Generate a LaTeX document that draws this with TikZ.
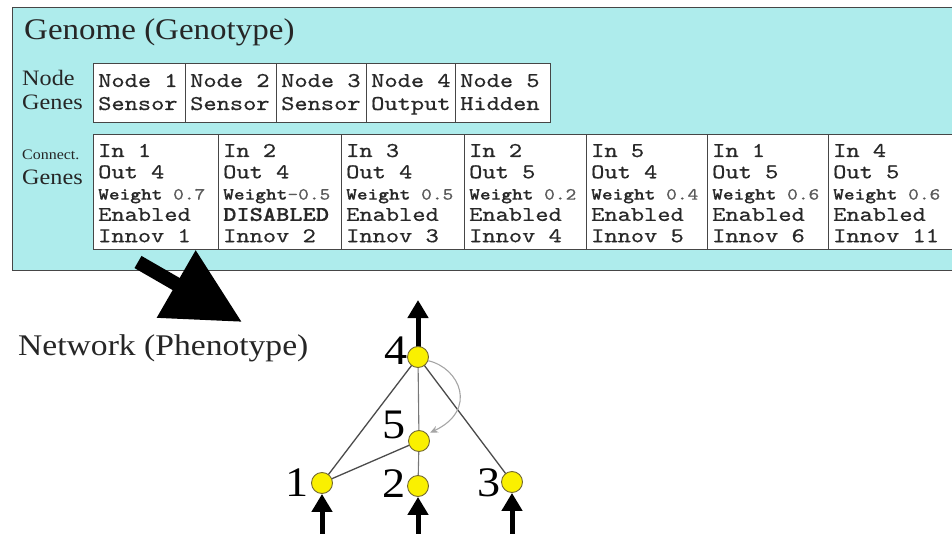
\documentclass[tikz,border=0pt]{standalone}
\usepackage{fontspec}
\setmainfont{Liberation Serif}
\newfontfamily\cellmono[FakeBold=0.5,BoldFont={lmmonolt10-bold.otf}]{lmmono10-regular.otf}
\usepackage{graphicx}
\usetikzlibrary{arrows.meta,backgrounds}

\definecolor{panelcyan}{RGB}{174,236,236}
\definecolor{rulegray}{RGB}{70,70,70}
\definecolor{inkgray}{RGB}{40,40,40}
\definecolor{numgray}{RGB}{90,90,90}
\definecolor{nodeyellow}{RGB}{250,240,0}
\definecolor{nodeedge}{RGB}{115,105,50}
\definecolor{edgedark}{RGB}{75,75,75}
\definecolor{edgelight}{RGB}{120,120,120}
\definecolor{curvegray}{RGB}{165,165,165}

% horizontally widened text, serif and typewriter
\newcommand\serifwide[1]{\scalebox{1.1}[1]{#1}}
\newcommand\monowide[1]{\scalebox{1.2}[1]{#1}}

\tikzset{
  panel/.style={draw=rulegray, fill=panelcyan, line width=1.3pt, inner sep=0, anchor=north west},
  cellbox/.style={draw=rulegray, fill=white, line width=1.1pt, inner sep=0, anchor=north west},
  label/.style={anchor=base west, inner sep=0, text=black!85},
  monotext/.style={anchor=base west, inner sep=0, text=inkgray, font=\cellmono\fontsize{21}{21}\selectfont},
  neuron/.style={circle, fill=nodeyellow, draw=nodeedge, line width=0.9pt, minimum size=21pt, inner sep=0},
  numlabel/.style={anchor=base east, inner sep=0, font=\fontsize{42}{42}\selectfont},
  link/.style={draw=edgedark, line width=1.3pt},
  linklight/.style={draw=edgelight, line width=1.1pt},
  iolink/.style={draw=black, line width=5pt, -{Triangle[width=20pt,length=18pt]}},
  recur/.style={draw=curvegray, line width=1.1pt, -{Stealth[length=8pt,width=7pt]}, shorten >=3pt},
  bigarrow/.style={draw=black, line width=14pt, -{Triangle[width=74pt,length=76pt]}}
}

\begin{document}
\begin{tikzpicture}[x=1pt,y=-1pt]
\useasboundingbox (0,0) rectangle (952,534);
\clip (0,0) rectangle (952,534);

% genome panel
\node[panel, minimum width=960pt, minimum height=263pt] (genome) at (12,7) {};
\node[label, font=\fontsize{30}{30}\selectfont] (title) at (24,40) {\serifwide{Genome (Genotype)}};

% node genes
\node[label, font=\fontsize{22}{22}\selectfont] (nglab1) at (22,86) {\serifwide{Node}};
\node[label, font=\fontsize{22}{22}\selectfont] (nglab2) at (22,110) {\serifwide{Genes}};
\foreach \k/\xa/\xb/\kind in {1/93/185/Sensor, 2/185/276/Sensor, 3/276/366/Sensor, 4/366/455/Output, 5/455/550/Hidden}{
  \node[cellbox, minimum width={(\xb-\xa)*1pt}, minimum height=59pt] (ng\k) at (\xa,63) {};
  \node[monotext] (ngt\k) at ([xshift=5pt,yshift=-24pt]ng\k.north west)
    {\monowide{\vtop{\baselineskip=23pt \hbox{Node \k}\hbox{\kind}}}};
}

% connection genes
\node[label, font=\fontsize{14.5}{14.5}\selectfont] (cglab1) at (22,160) {\serifwide{Connect.}};
\node[label, font=\fontsize{22}{22}\selectfont] (cglab2) at (22,185) {\serifwide{Genes}};
\foreach \k/\xa/\xb/\src/\dst/\wt/\state/\inno in {
  1/93/218/1/4/{\ 0.7}/Enabled/1,
  2/218/341/2/4/{-0.5}/{\textbf{DISABLED}}/2,
  3/341/464/3/4/{\ 0.5}/Enabled/3,
  4/464/586/2/5/{\ 0.2}/Enabled/4,
  5/586/707/5/4/{\ 0.4}/Enabled/5,
  6/707/828/1/5/{\ 0.6}/Enabled/6,
  7/828/965/4/5/{\ 0.6}/Enabled/11}{
  \node[cellbox, minimum width={(\xb-\xa)*1pt}, minimum height=115pt] (cg\k) at (\xa,134) {};
  \node[monotext] (cgt\k) at ([xshift=5pt,yshift=-23pt]cg\k.north west)
    {\monowide{\vtop{\baselineskip=21.3pt \hbox{In \src}\hbox{Out \dst}%
      \hbox{\fontsize{17}{17}\selectfont\textbf{Weight}\textcolor{numgray}{\wt}}\hbox{\state}\hbox{Innov \inno}}}};
}

% genotype to phenotype arrow
\coordinate (bigtail) at (138,262);
\coordinate (bigtip) at (242,322);
\draw[bigarrow] (bigtail) -- (bigtip);

\node[label, font=\fontsize{30}{30}\selectfont] (pheno) at (18,355) {\scalebox{1.12}[1]{Network (Phenotype)}};

% network
\node[neuron] (n1) at (322,483) {};
\node[neuron] (n2) at (418,486) {};
\node[neuron] (n3) at (512,482) {};
\node[neuron] (n4) at (418,357) {};
\node[neuron] (n5) at (419,441) {};

\node[numlabel] (l1) at (309,496) {\serifwide{1}};
\node[numlabel] (l2) at (406,497) {\serifwide{2}};
\node[numlabel] (l3) at (501,496) {\serifwide{3}};
\node[numlabel] (l4) at (408,364) {\serifwide{4}};
\node[numlabel] (l5) at (406,438) {\serifwide{5}};

\coordinate (in1) at (322,545);
\coordinate (in2) at (418,545);
\coordinate (in3) at (512,545);
\coordinate (out4) at (418,300);

\begin{pgfonlayer}{background}
  \draw[link] (n4.center) -- (n1.center);
  \draw[link] (n4.center) -- (n3.center);
  \draw[link] (n5.center) -- (n1.center);
  \draw[linklight] (n4.center) -- (n5.center);
  \draw[linklight] (n5.center) -- (n2.center);
  \draw[iolink] (n4.center) -- (out4);
\end{pgfonlayer}

\draw[iolink] (in1) -- (n1);
\draw[iolink] (in2) -- (n2);
\draw[iolink] (in3) -- (n3);

\draw[recur] (n4.-20) .. controls (460,368) and (478,410) .. (n5.40);
\end{tikzpicture}
\end{document}
